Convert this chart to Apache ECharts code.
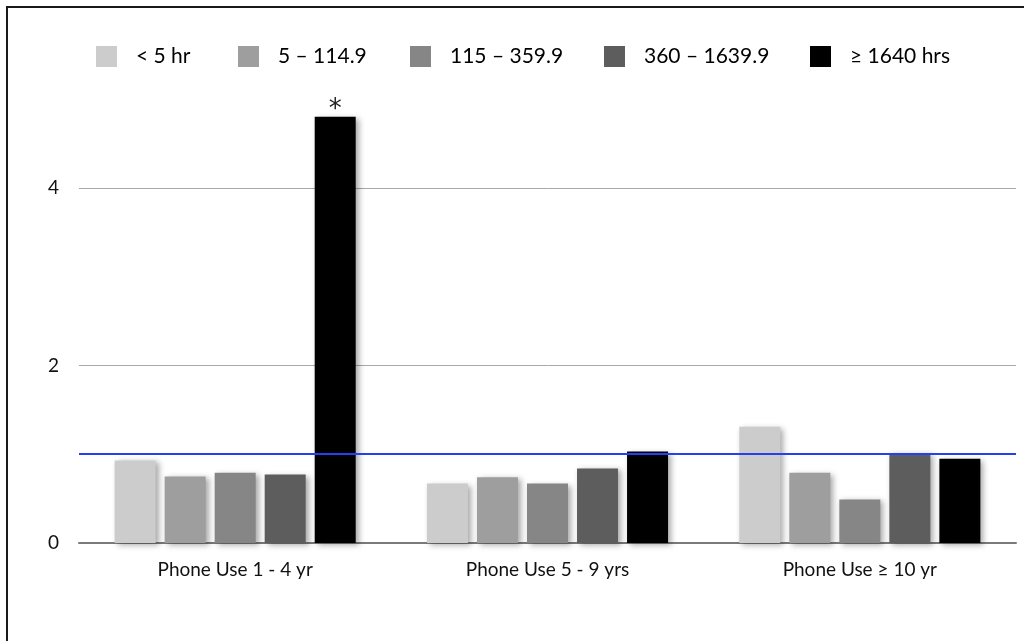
<!DOCTYPE html>
<html>
<head>
<meta charset="utf-8">
<script src="https://cdn.jsdelivr.net/npm/echarts@6/dist/echarts.min.js"></script>
<style>
html,body{margin:0;padding:0;background:#fff;}
#chart{width:1024px;height:641px;}
</style>
</head>
<body>
<div id="chart"></div>
<script>
const categories = ['Phone Use 1 - 4 yr', 'Phone Use 5 - 9 yrs', 'Phone Use \u2265 10 yr'];
const seriesNames = ['< 5 hr', '5 \u2013 114.9', '115 \u2013 359.9', '360 \u2013 1639.9', '\u2265 1640 hrs'];
const lt5 = [0.93, 0.67, 1.31];
const r5to115 = [0.75, 0.74, 0.79];
const r115to360 = [0.79, 0.67, 0.49];
const r360to1640 = [0.77, 0.84, 1.01];
const ge1640 = [4.80, 1.03, 0.95];
const yTicks = [0, 2, 4];
const refLine = 1;
const colors = ['#cbcccb', '#9d9e9d', '#858685', '#5c5d5c', '#000000'];
const legendLefts = [91, 233, 405, 599, 805];

const FONT = 'Lato';
const values = [lt5, r5to115, r115to360, r360to1640, ge1640];

const series = values.map((vals, i) => ({
  name: seriesNames[i],
  type: 'bar',
  barWidth: 41,
  barGap: '22%',
  itemStyle: {
    color: colors[i],
    shadowBlur: 6,
    shadowOffsetX: 3,
    shadowOffsetY: 2,
    shadowColor: 'rgba(0,0,0,0.35)'
  },
  data: vals.map((v, j) => {
    if (i === 4 && j === 0) {
      return {
        value: v,
        label: { show: true, position: 'top', formatter: '*', fontSize: 26, color: '#222', fontFamily: 'DejaVu Sans', distance: -6 }
      };
    }
    return v;
  })
}));

series[0].markLine = {
  silent: true,
  symbol: 'none',
  label: { show: false },
  lineStyle: { color: '#2440f0', width: 2, type: 'solid' },
  data: [{ yAxis: refLine }]
};

const legends = seriesNames.map((n, i) => ({
  data: [n],
  left: legendLefts[i],
  top: 41,
  itemWidth: 21,
  itemHeight: 21,
  icon: 'rect',
  selectedMode: false,
  textStyle: { fontFamily: FONT, fontSize: 21, color: '#000', padding: [0, 0, 0, 14] }
}));

const chart = echarts.init(document.getElementById('chart'));
chart.setOption({
  animation: false,
  backgroundColor: '#fff',
  graphic: [{
    type: 'rect',
    shape: { x: 7, y: 7, width: 1040, height: 660 },
    style: { fill: 'none', stroke: '#1a1a1a', lineWidth: 2 },
    z: 100
  }],
  legend: legends,
  grid: { left: 79, right: 8, top: 99, bottom: 98, containLabel: false },
  xAxis: {
    type: 'category',
    data: categories,
    axisTick: { show: false },
    axisLine: { show: true, lineStyle: { color: '#7a7a7a', width: 2 } },
    axisLabel: { fontFamily: FONT, fontSize: 19, color: '#111', margin: 17 }
  },
  yAxis: {
    type: 'value',
    min: 0,
    max: 5,
    interval: 2,
    axisLine: { show: false },
    axisTick: { show: false },
    axisLabel: {
      fontFamily: FONT, fontSize: 19, color: '#111', margin: 20, showMaxLabel: false,
      formatter: v => (yTicks.indexOf(v) >= 0 ? String(v) : '')
    },
    splitLine: { show: true, showMaxLine: false, showMinLine: false, lineStyle: { color: '#a8a8a8', width: 1 } }
  },
  series: series
});
</script>
</body>
</html>
